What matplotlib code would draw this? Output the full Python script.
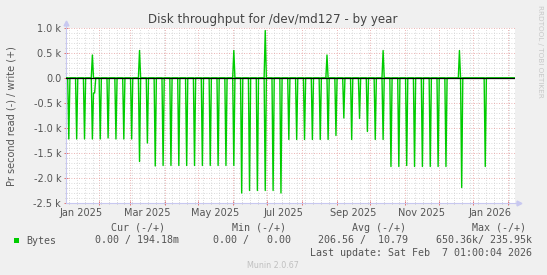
import matplotlib
matplotlib.use("Agg")
import matplotlib.pyplot as plt
import matplotlib.dates as mdates
from matplotlib.patches import Rectangle
import pandas as pd

# daily averages, bytes per second (reads are drawn below zero)
read_dates = ["2025-01-05", "2025-01-12", "2025-01-19", "2025-01-26", "2025-01-27", "2025-01-28",
              "2025-02-02", "2025-02-09", "2025-02-16", "2025-02-23", "2025-03-02", "2025-03-09",
              "2025-03-16", "2025-03-23", "2025-03-30", "2025-04-06", "2025-04-13", "2025-04-20",
              "2025-04-27", "2025-05-04", "2025-05-11", "2025-05-18", "2025-05-25", "2025-06-01",
              "2025-06-08", "2025-06-15", "2025-06-22", "2025-06-29", "2025-07-06", "2025-07-13",
              "2025-07-20", "2025-07-27", "2025-08-03", "2025-08-10", "2025-08-17", "2025-08-24",
              "2025-08-31", "2025-09-07", "2025-09-14", "2025-09-21", "2025-09-28", "2025-10-05",
              "2025-10-12", "2025-10-19", "2025-10-26", "2025-11-02", "2025-11-09", "2025-11-16",
              "2025-11-23", "2025-11-30", "2025-12-07", "2025-12-21", "2026-01-11"]
read_values = [1220, 1220, 1220, 1220, 300, 300,
               1220, 1200, 1220, 1220, 1220, 1670,
               1300, 1760, 1750, 1750, 1750, 1750,
               1750, 1750, 1750, 1750, 1750, 1750,
               2300, 2250, 2250, 2250, 2250, 2300,
               1230, 1230, 1230, 1230, 1230, 1230,
               1150, 800, 1230, 810, 1070, 1230,
               1230, 1770, 1770, 1750, 1770, 1770,
               1770, 1770, 1770, 2190, 1770]

write_dates = ["2025-01-26", "2025-03-09", "2025-06-01", "2025-06-29", "2025-08-23", "2025-10-12", "2025-12-19"]
write_values = [460, 550, 550, 950, 460, 550, 550]

x_start, x_end = "2025-01-03", "2026-02-07"
label_dates = ["2025-01-16", "2025-03-16", "2025-05-16", "2025-07-16", "2025-09-16", "2025-11-16", "2026-01-16"]
label_texts = ["Jan 2025", "Mar 2025", "May 2025", "Jul 2025", "Sep 2025", "Nov 2025", "Jan 2026"]
y_ticks = [1000, 500, 0, -500, -1000, -1500, -2000, -2500]
y_tick_labels = ["1.0 k", "0.5 k", "0.0", "-0.5 k", "-1.0 k", "-1.5 k", "-2.0 k", "-2.5 k"]

W, H = 547, 275
BG = "#f0f0f0"
TXT = "#555555"
GREEN = "#00cc00"
AXC = "#c8c8f0"

def fx(x):
    return x / W

def fy(y):
    return 1 - y / H

days = pd.date_range(x_start, x_end, freq="D")
reads = pd.Series(0.0, index=days)
writes = pd.Series(0.0, index=days)
reads[pd.to_datetime(read_dates)] = read_values
writes[pd.to_datetime(write_dates)] = write_values

fig = plt.figure(figsize=(W / 100, H / 100), dpi=100, facecolor=BG)
ax = fig.add_axes([fx(66), fy(203), fx(515) - fx(66), fy(28) - fy(203)])
ax.set_facecolor("white")

# shift by half a day so each daily value sits in the middle of its day
mid = days + pd.Timedelta(hours=12)
ax.plot(mid, -reads.values, color=GREEN, lw=1.0, zorder=3)
ax.plot(mid, writes.values, color=GREEN, lw=1.0, zorder=3)
ax.axhline(0, color="black", lw=0.9, zorder=4)

ax.set_xlim(pd.Timestamp(x_start), pd.Timestamp(x_end))
ax.set_ylim(-2500, 1000)

ax.xaxis.set_major_locator(mdates.MonthLocator())
ax.xaxis.set_minor_locator(mdates.WeekdayLocator(byweekday=mdates.MO))
ax.xaxis.set_major_formatter(plt.NullFormatter())
ax.set_yticks(y_ticks)
ax.set_yticklabels(y_tick_labels)
ax.set_yticks(range(-2500, 1001, 100), minor=True)

ax.grid(which="minor", color="#cfcfcf", lw=0.6, ls=(0, (1, 2)))
ax.grid(which="major", color="#e49a9a", lw=0.6, ls=(0, (1, 2)))
ax.set_axisbelow(True)

ax.tick_params(which="major", direction="inout", length=3, width=0.6, color="#e06060",
               labelsize=7, labelcolor=TXT, pad=2)
ax.tick_params(which="minor", direction="inout", length=2, width=0.5, color="#b0b0b0")

for s in ["top", "right"]:
    ax.spines[s].set_visible(False)
for s in ["left", "bottom"]:
    ax.spines[s].set_color(AXC)
    ax.spines[s].set_linewidth(0.8)

# axis arrows
ax.plot([0, 0], [1, 1.025], color=AXC, lw=0.8, transform=ax.transAxes, clip_on=False)
ax.plot([0], [1.03], marker="^", ms=3.5, color=AXC, transform=ax.transAxes, clip_on=False)
ax.plot([1, 1.008], [0, 0], color=AXC, lw=0.8, transform=ax.transAxes, clip_on=False)
ax.plot([1.01], [0], marker=">", ms=3.5, color=AXC, transform=ax.transAxes, clip_on=False)

for d, t in zip(label_dates, label_texts):
    ax.text(pd.Timestamp(d), -0.03, t, transform=ax.get_xaxis_transform(),
            ha="center", va="top", fontsize=7, color=TXT)

fig.text(fx(273), fy(19), "Disk throughput for /dev/md127 - by year", ha="center", va="center",
         fontsize=8.6, color="#444444")
fig.text(fx(12), fy(116), "Pr second read (-) / write (+)", rotation=90, ha="center", va="center",
         fontsize=7, color=TXT)
fig.text(fx(540), fy(5), "RRDTOOL / TOBI OETIKER", rotation=270, ha="center", va="top",
         fontsize=5.2, color="#c8c8c8")

mono = dict(family="DejaVu Sans Mono", fontsize=7.2, color=TXT, va="center")
for x, t in zip([111, 232, 352, 472], ["Cur (-/+)", "Min (-/+)", "Avg (-/+)", "Max (-/+)"]):
    fig.text(fx(x), fy(228), t, ha="left", **mono)
fig.patches.append(Rectangle((fx(14), fy(243)), fx(5), fy(238) - fy(243), transform=fig.transFigure,
                             facecolor=GREEN, edgecolor="none"))
fig.text(fx(26), fy(240.5), "Bytes", ha="left", **mono)
fig.text(fx(179), fy(240.5), "0.00 / 194.18m", ha="right", **mono)
fig.text(fx(291), fy(240.5), "0.00 /   0.00", ha="right", **mono)
fig.text(fx(408), fy(240.5), "206.56 /  10.79", ha="right", **mono)
fig.text(fx(532), fy(240.5), "650.36k/ 235.95k", ha="right", **mono)
fig.text(fx(532), fy(252.5), "Last update: Sat Feb  7 01:00:04 2026", ha="right", **mono)
fig.text(fx(273), fy(265), "Munin 2.0.67", ha="center", va="center", fontsize=5.8, color="#c0c0c0")

fig.savefig("out.png", dpi=100, facecolor=BG)
